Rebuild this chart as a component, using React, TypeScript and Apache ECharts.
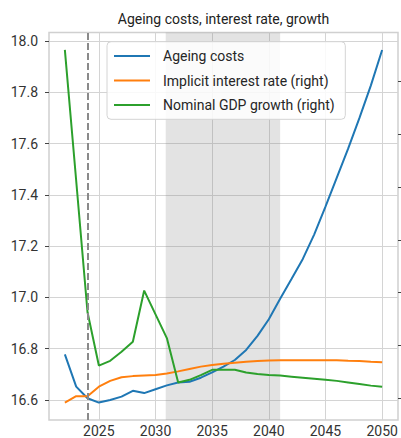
import React, { useEffect, useRef } from "react";
import * as echarts from "echarts";

const years = [2022, 2023, 2024, 2025, 2026, 2027, 2028, 2029, 2030, 2031, 2032, 2033, 2034, 2035, 2036, 2037, 2038, 2039, 2040, 2041, 2042, 2043, 2044, 2045, 2046, 2047, 2048, 2049, 2050];

const ageingCosts = [16.778, 16.652, 16.607, 16.59, 16.6, 16.613, 16.636, 16.627, 16.642, 16.657, 16.668, 16.671, 16.687, 16.708, 16.73, 16.756, 16.795, 16.85, 16.915, 16.995, 17.072, 17.15, 17.245, 17.354, 17.467, 17.58, 17.7, 17.826, 17.965];

const interestRate = [1.92, 2.04, 2.04, 2.22, 2.33, 2.4, 2.42, 2.43, 2.44, 2.47, 2.51, 2.555, 2.6, 2.63, 2.655, 2.674, 2.693, 2.706, 2.716, 2.72, 2.72, 2.72, 2.72, 2.72, 2.72, 2.712, 2.706, 2.693, 2.682];

const gdpGrowth = [8.6, 6.12, 3.63, 2.62, 2.71, 2.88, 3.07, 4.04, 3.59, 3.14, 2.3, 2.35, 2.44, 2.54, 2.54, 2.54, 2.49, 2.46, 2.44, 2.43, 2.41, 2.39, 2.37, 2.35, 2.33, 2.3, 2.27, 2.24, 2.22];

const xTicks = [2025, 2030, 2035, 2040, 2045, 2050];
const leftTicks = [16.6, 16.8, 17.0, 17.2, 17.4, 17.6, 17.8, 18.0];
const rightTicks = [2, 3, 4, 5, 6, 7, 8];

const shadeFrom = 2030.9;
const shadeTo = 2041;
const markerYear = 2024;

const FONT = "Roboto, 'DejaVu Sans', sans-serif";
const LINE_ICON = "path://M0 0 H36 V2 H0 Z";

export default function App() {
  const ref = useRef<HTMLDivElement>(null);
  useEffect(() => {
    if (!ref.current) return;
    const chart = echarts.init(ref.current, undefined, { renderer: "svg" });
    const pair = (arr: number[]) => years.map((y, i) => [y, arr[i]]);
    chart.setOption({
      animation: false,
      backgroundColor: "#ffffff",
      textStyle: { fontFamily: FONT },
      title: {
        text: "Ageing costs, interest rate, growth",
        left: 223.5,
        top: 12,
        textAlign: "center",
        padding: 0,
        textStyle: { fontFamily: FONT, fontSize: 14, fontWeight: "normal", color: "#222" },
      },
      legend: {
        orient: "vertical",
        left: 107,
        top: 41.7,
        padding: [7.3, 10.7, 7.3, 7],
        itemWidth: 36,
        itemHeight: 2,
        itemGap: 10.5,
        icon: LINE_ICON,
        backgroundColor: "rgba(255,255,255,0.85)",
        borderColor: "#d4d4d4",
        borderWidth: 1,
        borderRadius: 4,
        textStyle: { fontFamily: FONT, fontSize: 14, lineHeight: 14, color: "#262626", padding: [0, 0, 0, 8] },
        data: ["Ageing costs", "Implicit interest rate (right)", "Nominal GDP growth (right)"],
      },
      grid: {
        left: 49,
        right: 3,
        top: 32.5,
        bottom: 18,
        outerBoundsMode: "none",
        containLabel: false,
        show: true,
        borderColor: "#d0d0d0",
        borderWidth: 1.5,
        backgroundColor: "transparent",
      },
      xAxis: {
        type: "value",
        min: 2020.6,
        max: 2051.4,
        axisLine: { show: false },
        axisTick: { show: false, customValues: xTicks },
        axisLabel: {
          customValues: xTicks,
          formatter: (v: number) => String(Math.round(v)),
          fontFamily: FONT,
          fontSize: 14,
          lineHeight: 14,
          color: "#333",
          margin: 4,
        },
        splitLine: { show: true, lineStyle: { color: "#d4d4d4", width: 1 } },
      },
      yAxis: [
        {
          type: "value",
          position: "left",
          min: 16.522,
          max: 18.033,
          axisLine: { show: false },
          axisTick: { show: true, length: 4, customValues: leftTicks, lineStyle: { color: "#444" } },
          axisLabel: {
            customValues: leftTicks,
            formatter: (v: number) => v.toFixed(1),
            fontFamily: FONT,
            fontSize: 14,
            color: "#333",
            margin: 11,
          },
          splitLine: { show: true, lineStyle: { color: "#d4d4d4", width: 1 } },
        },
        {
          type: "value",
          position: "right",
          min: 1.589,
          max: 8.928,
          axisLine: { show: false },
          axisTick: { show: true, length: 4, customValues: rightTicks, lineStyle: { color: "#444" } },
          axisLabel: { show: false, customValues: rightTicks },
          splitLine: { show: false },
        },
      ],
      series: [
        {
          name: "Ageing costs",
          type: "line",
          yAxisIndex: 0,
          symbol: "none",
          data: pair(ageingCosts),
          lineStyle: { color: "#1f77b4", width: 2 },
          itemStyle: { color: "#1f77b4" },
          markArea: {
            silent: true,
            itemStyle: { color: "rgba(128,128,128,0.22)" },
            data: [[{ xAxis: shadeFrom }, { xAxis: shadeTo }]],
          },
          markLine: {
            silent: true,
            symbol: "none",
            label: { show: false },
            lineStyle: { color: "#8a8a8a", width: 2, type: [7, 3] },
            data: [{ xAxis: markerYear }],
          },
        },
        {
          name: "Implicit interest rate (right)",
          type: "line",
          yAxisIndex: 1,
          symbol: "none",
          data: pair(interestRate),
          lineStyle: { color: "#ff7f0e", width: 2 },
          itemStyle: { color: "#ff7f0e" },
        },
        {
          name: "Nominal GDP growth (right)",
          type: "line",
          yAxisIndex: 1,
          symbol: "none",
          data: pair(gdpGrowth),
          lineStyle: { color: "#2ca02c", width: 2 },
          itemStyle: { color: "#2ca02c" },
        },
      ],
    });
    return () => chart.dispose();
  }, []);
  return (
    <div
      ref={ref}
      style={{ position: "absolute", left: 0, top: 0, width: 401, height: 438 }}
    />
  );
}
